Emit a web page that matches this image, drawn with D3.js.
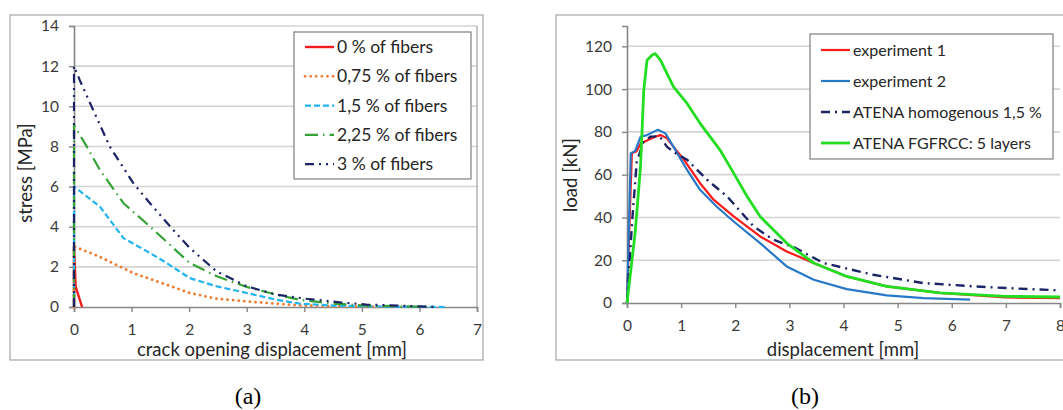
<!DOCTYPE html>
<html>
<head>
<meta charset="utf-8">
<script src="https://cdn.jsdelivr.net/npm/d3@7"></script>
<style>
  body { margin: 0; background: #fff; }
  svg { display: block; }
  .tick text { font-family: Lato, "Open Sans", sans-serif; fill: #3a3a3a; }
</style>
</head>
<body>
<svg id="chart" width="1063" height="410"></svg>
<script>
// ---- chart (a): stress vs crack opening displacement
var seriesA = ["0 % of fibers", "0,75 % of fibers", "1,5 % of fibers", "2,25 % of fibers", "3 % of fibers"];
var fib0   = [[0,0],[0,3],[0.03,1],[0.14,0]];
var fib075 = [[0,0],[0,3.02],[0.45,2.5],[1.03,1.69],[1.61,1.11],[2.01,0.7],[2.48,0.41],[3.0,0.28],[3.92,0.08],[4.5,0.03],[5.3,0]];
var fib15  = [[0,0],[0,6.0],[0.45,5.0],[0.86,3.43],[1.32,2.69],[1.61,2.19],[2.01,1.44],[2.48,1.03],[3.0,0.7],[3.52,0.36],[3.92,0.17],[4.5,0.07],[5.08,0.03],[6.47,0]];
var fib225 = [[0,0],[0,9.07],[0.22,8.0],[0.45,6.83],[0.86,5.17],[1.32,4.01],[2.01,2.19],[2.48,1.53],[3.0,1.0],[3.52,0.61],[3.92,0.36],[4.5,0.17],[5.08,0.07],[6.23,0]];
var fib3   = [[0,0],[0,12.0],[0.1,11.3],[0.28,10.15],[0.62,8.0],[1.03,6.17],[1.32,5.17],[1.72,3.85],[2.01,2.94],[2.48,1.77],[3.0,1.03],[3.52,0.61],[4.04,0.41],[4.62,0.23],[5.08,0.12],[6.0,0.03],[6.3,0]];
var xTicksA = [0,1,2,3,4,5,6,7];
var yTicksA = [0,2,4,6,8,10,12,14];

// ---- chart (b): load vs displacement
var seriesB = ["experiment 1", "experiment 2", "ATENA homogenous 1,5 %", "ATENA FGFRCC: 5 layers"];
var exp1 = [[0,0],[0.03,25],[0.09,70],[0.18,71],[0.25,74.6],[0.37,76],[0.52,77.7],[0.62,78.5],[0.74,77],[0.86,73],[1.05,67],[1.35,56],[1.6,48.3],[1.97,40.5],[2.46,31.1],[2.95,24.1],[3.45,18.7],[4.06,12.4],[4.8,7.8],[5.78,4.7],[7.0,2.6],[8.0,2.3]];
var exp2 = [[0,0],[0.07,70],[0.15,71],[0.25,77.7],[0.37,78.5],[0.49,80],[0.57,81],[0.71,79.3],[0.86,73],[1.11,62.2],[1.35,52.9],[1.66,45],[1.97,38.1],[2.46,28],[2.95,17.1],[3.45,10.9],[4.06,6.5],[4.8,3.6],[5.48,2.3],[6.34,1.6]];
var atenaHom = [[0,0],[0.1,40],[0.18,66],[0.3,75],[0.43,77.7],[0.6,78],[0.74,73],[0.9,70],[1.11,67],[1.48,57.6],[1.85,49.8],[2.34,35.8],[2.7,29.6],[3.08,26.1],[3.63,18.7],[4.55,13.2],[5.48,9.3],[6.4,7.8],[7.0,7.0],[8.0,5.9]];
var atenaFg = [[0,0],[0.15,32.7],[0.25,63.8],[0.31,99.5],[0.37,113.5],[0.46,115.8],[0.52,116.6],[0.62,113.5],[0.71,108.8],[0.86,101],[1.11,93.3],[1.35,84],[1.72,71.5],[1.97,60.7],[2.22,49.8],[2.46,40.4],[2.95,28],[3.45,18.7],[4.06,12.4],[4.8,7.8],[5.78,4.7],[7.0,3.1],[8.0,2.8]];
var xTicksB = [0,1,2,3,4,5,6,7,8];
var yTicksB = [0,20,40,60,80,100,120];

var svg = d3.select("#chart");
var font = "Lato, 'Open Sans', sans-serif";

function drawChart(cfg) {
  // outer frame
  svg.append("rect")
    .attr("x", cfg.frame[0]).attr("y", cfg.frame[1])
    .attr("width", cfg.frame[2]).attr("height", cfg.frame[3])
    .attr("fill", "none").attr("stroke", "#a6a6a6").attr("stroke-width", 1.2);

  var x = d3.scaleLinear().domain(cfg.xDomain).range([cfg.left, cfg.right]);
  var y = d3.scaleLinear().domain(cfg.yDomain).range([cfg.bottom, cfg.top]);

  // horizontal grid
  svg.append("g").selectAll("line").data(cfg.yTicks.filter(function(d){ return d > 0; }))
    .enter().append("line")
    .attr("x1", cfg.left).attr("x2", cfg.right)
    .attr("y1", function(d){ return y(d); }).attr("y2", function(d){ return y(d); })
    .attr("stroke", "#d4d4d4").attr("stroke-width", 1.6);

  if (cfg.rightBorder) {
    svg.append("line").attr("x1", cfg.right).attr("x2", cfg.right)
      .attr("y1", y(cfg.yDomain[1])).attr("y2", cfg.bottom)
      .attr("stroke", "#a0a0a0").attr("stroke-width", 1.2);
  }

  var gx = svg.append("g").attr("transform", "translate(0," + cfg.bottom + ")")
    .call(d3.axisBottom(x).tickValues(cfg.xTicks).tickSize(5).tickPadding(12).tickFormat(d3.format("d")));
  var gy = svg.append("g").attr("transform", "translate(" + cfg.left + ",0)")
    .call(d3.axisLeft(y).tickValues(cfg.yTicks).tickSize(5).tickPadding(10).tickFormat(d3.format("d")));
  [gx, gy].forEach(function(g){
    g.select(".domain").attr("stroke", "#868686").attr("stroke-width", 1.6);
    g.selectAll(".tick line").attr("stroke", "#868686").attr("stroke-width", 1.4);
    g.selectAll(".tick text").style("font-size", "15.5px");
  });

  var line = d3.line().x(function(d){ return x(d[0]); }).y(function(d){ return y(d[1]); });
  cfg.series.forEach(function(s){
    svg.append("path").datum(s.data)
      .attr("d", line).attr("fill", "none")
      .attr("stroke", s.color).attr("stroke-width", s.width)
      .attr("stroke-dasharray", s.dash).attr("stroke-linecap", s.cap || "butt")
      .attr("stroke-linejoin", "round");
  });

  // legend
  var lg = cfg.legend;
  svg.append("rect").attr("x", lg.x).attr("y", lg.y).attr("width", lg.w).attr("height", lg.h)
    .attr("fill", "#fff").attr("stroke", "#7f7f7f").attr("stroke-width", 1.2);
  cfg.series.forEach(function(s, i){
    var yy = lg.y + lg.first + i * lg.step;
    svg.append("line").attr("x1", lg.x + 11).attr("x2", lg.x + 40)
      .attr("y1", yy).attr("y2", yy)
      .attr("stroke", s.color).attr("stroke-width", s.width)
      .attr("stroke-dasharray", s.dash).attr("stroke-linecap", s.cap || "butt");
    svg.append("text").attr("x", lg.x + 43).attr("y", yy).attr("dy", "0.35em")
      .attr("font-family", font).attr("font-size", lg.fontSize).attr("fill", "#262626")
      .text(s.name);
  });

  // axis titles
  svg.append("text").attr("x", cfg.xTitlePos[0]).attr("y", cfg.xTitlePos[1])
    .attr("text-anchor", "middle").attr("font-family", font).attr("font-size", 18.5)
    .attr("fill", "#262626").text(cfg.xTitle);
  svg.append("text")
    .attr("transform", "translate(" + cfg.yTitlePos[0] + "," + cfg.yTitlePos[1] + ") rotate(-90)")
    .attr("text-anchor", "middle").attr("font-family", font).attr("font-size", 18.5)
    .attr("fill", "#262626").text(cfg.yTitle);

  svg.append("text").attr("x", cfg.captionPos[0]).attr("y", cfg.captionPos[1])
    .attr("text-anchor", "middle").attr("font-family", "'Liberation Serif', 'Times New Roman', serif")
    .attr("font-size", 24).attr("fill", "#000").text(cfg.caption);
}

var colorsA = ["#f21c1c", "#ed7d31", "#22b4f0", "#36a336", "#1c2466"];
var dataA = [fib0, fib075, fib15, fib225, fib3];
var stylesA = [
  {dash: null, width: 2.4},
  {dash: "0.1 5.5", width: 2.8, cap: "round"},
  {dash: "6 3", width: 2.2},
  {dash: "13 5 1.5 5", width: 2.2},
  {dash: "9 5 2 5 2 5", width: 2.2}
];

drawChart({
  frame: [10, 15, 473, 345],
  left: 74, right: 477, top: 26, bottom: 307,
  xDomain: [0, 7], yDomain: [0, 14],
  xTicks: xTicksA, yTicks: yTicksA, rightBorder: true,
  series: seriesA.map(function(n, i){
    return {name: n, data: dataA[i], color: colorsA[i], dash: stylesA[i].dash, width: stylesA[i].width, cap: stylesA[i].cap};
  }),
  legend: {x: 294, y: 32, w: 177, h: 147, first: 15, step: 29.3, fontSize: 17.5},
  xTitlePos: [272, 356], xTitle: "crack opening displacement [mm]",
  yTitle: "stress [MPa]", yTitlePos: [32, 173],
  caption: "(a)", captionPos: [248, 404]
});

var colorsB = ["#ff1a1a", "#2878c8", "#1c2466", "#22dd22"];
var dataB = [exp1, exp2, atenaHom, atenaFg];
var stylesB = [
  {dash: null, width: 2.2},
  {dash: null, width: 2.2},
  {dash: "9 5 2 5", width: 2.4},
  {dash: null, width: 2.8}
];

drawChart({
  frame: [556, 15, 520, 345],
  left: 627, right: 1060, top: 26, bottom: 303,
  xDomain: [0, 8], yDomain: [0, 129.5],
  xTicks: xTicksB, yTicks: yTicksB, rightBorder: false,
  series: seriesB.map(function(n, i){
    return {name: n, data: dataB[i], color: colorsB[i], dash: stylesB[i].dash, width: stylesB[i].width};
  }),
  legend: {x: 810, y: 34, w: 243, h: 125, first: 16, step: 31, fontSize: 16},
  xTitle: "displacement [mm]", xTitlePos: [843, 356],
  yTitle: "load [kN]", yTitlePos: [577, 175],
  caption: "(b)", captionPos: [805, 404]
});
</script>
</body>
</html>
